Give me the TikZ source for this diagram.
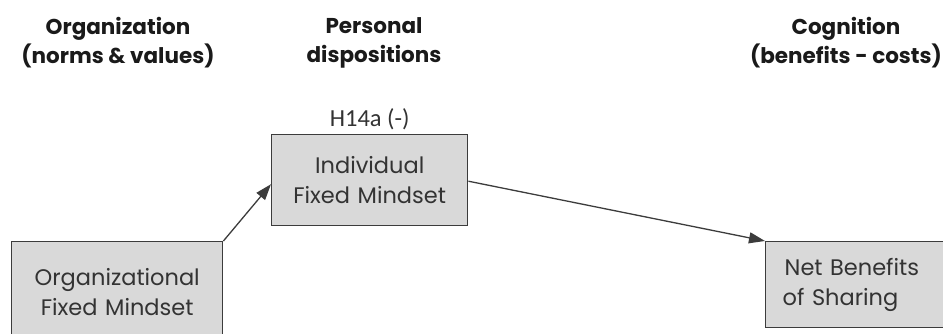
\documentclass[tikz,border=0pt]{standalone}
\usepackage{fontspec}
\setmainfont{Poppins}
\newfontfamily\labelfont{Carlito}
\usetikzlibrary{arrows.meta}
\definecolor{boxfill}{HTML}{D9D9D9}
\definecolor{boxline}{HTML}{3C3C3C}
\definecolor{boxtext}{HTML}{333333}
\definecolor{headtext}{HTML}{1A1A1A}
\tikzset{
  header/.style={font=\fontsize{21.5}{29}\selectfont\bfseries, text=headtext, align=center, inner sep=0pt},
  box/.style={draw=boxline, line width=1.4pt, fill=boxfill, text=boxtext,
    font=\fontsize{22.5}{30}\selectfont, inner sep=0pt},
  link/.style={draw=boxline, line width=1.3pt, -{Triangle[length=16pt,width=11pt]}},
  hyp/.style={font=\labelfont\fontsize{24.5}{26}\selectfont, text=boxtext, inner sep=0pt}
}
\begin{document}
\begin{tikzpicture}[x=1pt,y=-1pt]
  \useasboundingbox (0,0) rectangle (943,334);
  % column headings
  \node[header] (hOrg) at (118,43) {Organization\\(norms \& values)};
  \node[header] (hPers) at (374,43) {Personal\\dispositions};
  \node[header] (hCog) at (846,43) {Cognition\\(benefits - costs)};
  % construct boxes
  \node[box, anchor=north west, minimum width=211pt, minimum height=100pt,
        text width=211pt, align=center] (org) at (11,241)
        {Organizational\\Fixed Mindset};
  \node[box, anchor=north west, minimum width=196pt, minimum height=91pt,
        text width=196pt, align=center] (ind) at (271,134)
        {Individual\\Fixed Mindset};
  \node[box, anchor=north west, minimum width=185pt, minimum height=86pt,
        text width=185pt, align=left] (net) at (765,241)
        {\hspace*{19pt}Net Benefits\\\hspace*{17pt}of Sharing};
  \node[hyp, anchor=south] (h14a) at (ind.north) [yshift=4pt] {H14a (-)};
  % paths
  \draw[link] (org.north east) -- ([yshift=-4pt]ind.west);
  \draw[link] ([yshift=-1pt]ind.east) -- (net.north west);
\end{tikzpicture}
\end{document}
